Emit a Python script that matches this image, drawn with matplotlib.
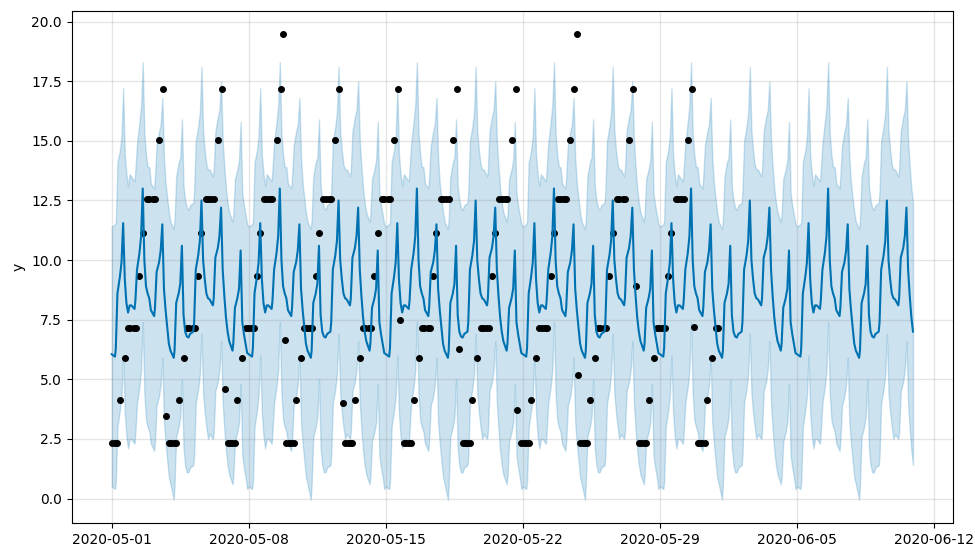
import numpy as np
import pandas as pd
import matplotlib
matplotlib.use('Agg')
import matplotlib.pyplot as plt
import matplotlib.dates as mdates

start = pd.Timestamp('2020-05-01')

# observed values (hours since 2020-05-01 00:00), grouped by level
lvl_233 = [0, 4, 7, 70, 73, 76, 79, 142, 145, 148, 151, 214, 217, 220, 223,
           286, 289, 292, 295, 358, 361, 364, 367, 430, 433, 436, 439,
           502, 505, 508, 511, 574, 577, 580, 583, 646, 649, 652, 655,
           718, 721, 724, 727]
lvl_414 = [10, 82, 154, 226, 298, 370, 442, 514, 586, 658, 730]
lvl_588 = [16, 88, 160, 232, 304, 376, 448, 520, 592, 664, 736]
lvl_713 = [20, 23, 27, 30, 92, 95, 99, 102, 164, 167, 171, 174, 236, 239, 243, 246,
           308, 311, 315, 318, 380, 383, 387, 390, 452, 455, 459, 462,
           524, 527, 531, 534, 596, 599, 603, 606, 668, 671, 675, 678, 740, 743]
lvl_934 = [34, 106, 178, 250, 322, 394, 466, 538, 610, 682]
lvl_1115 = [38, 110, 182, 254, 326, 398, 470, 542, 614, 686]
lvl_1255 = [43, 46, 50, 53, 115, 118, 122, 125, 187, 190, 194, 197, 259, 262, 266, 269,
            331, 334, 338, 341, 403, 406, 410, 413, 475, 478, 482, 485,
            547, 550, 554, 557, 619, 622, 626, 629, 691, 694, 698, 701]
lvl_1505 = [58, 130, 202, 274, 346, 418, 490, 562, 634, 706]
lvl_1717 = [63, 135, 207, 279, 351, 423, 495, 567, 639, 711]
levels = [2.33, 4.14, 5.88, 7.13, 9.34, 11.15, 12.55, 15.05, 17.17]
level_hours = [lvl_233, lvl_414, lvl_588, lvl_713, lvl_934, lvl_1115,
               lvl_1255, lvl_1505, lvl_1717]

# single odd points
odd_hours = [66, 139, 210, 212, 283, 353, 426, 497, 570, 571, 643, 713]
odd_values = [3.45, 4.58, 19.47, 6.63, 4.01, 7.47, 6.29, 3.73, 19.47, 5.16, 8.9, 7.2]

# forecast: one week profile (Fri .. Thu), read at these hours of each day
day_hours = [0, 4, 5, 7, 10, 12, 14, 16, 18, 20, 22]
yhat_week = [
    [6.05, 5.95, 6.3, 8.6, 9.3, 9.9, 11.55, 9.2, 8.2, 7.8, 8.1],     # Fri
    [8.1, 7.95, 8.3, 9.6, 10.3, 11.0, 13.0, 10.0, 8.9, 8.6, 8.4],    # Sat
    [7.9, 7.65, 8.0, 9.5, 9.9, 10.4, 11.5, 8.8, 7.9, 7.2, 6.5],      # Sun
    [6.2, 5.9, 6.2, 8.2, 8.6, 9.0, 10.6, 7.7, 7.0, 6.8, 6.75],       # Mon
    [6.9, 7.0, 7.4, 9.6, 10.2, 10.8, 12.5, 10.0, 9.2, 8.6, 8.4],     # Tue
    [8.35, 8.1, 8.4, 10.1, 10.5, 11.0, 12.2, 9.6, 8.5, 7.6, 7.0],    # Wed
    [6.6, 6.2, 6.5, 8.0, 8.4, 8.8, 10.4, 7.4, 6.9, 6.5, 6.1],        # Thu
]
upper_week = [
    [11.4, 11.5, 11.6, 14.1, 14.6, 15.2, 17.2, 14.4, 13.6, 13.1, 13.6],
    [13.5, 13.3, 13.8, 14.9, 15.8, 16.5, 18.3, 15.3, 14.4, 13.9, 13.9],
    [13.2, 13.0, 13.5, 14.8, 15.4, 15.7, 16.8, 14.3, 13.2, 12.6, 12.0],
    [11.6, 11.3, 11.7, 13.5, 14.1, 14.3, 15.9, 13.1, 12.5, 12.2, 12.1],
    [12.3, 12.4, 12.9, 15.0, 15.6, 16.2, 18.1, 15.4, 14.6, 14.0, 13.8],
    [13.8, 13.5, 13.8, 15.4, 16.0, 16.3, 17.5, 15.0, 13.9, 13.0, 12.4],
    [12.0, 11.6, 11.9, 13.4, 13.8, 14.2, 15.8, 12.8, 12.3, 11.9, 11.5],
]
lower_week = [
    [0.5, 0.4, 0.7, 3.0, 3.7, 4.3, 6.0, 3.6, 2.6, 2.1, 2.5],
    [2.5, 2.3, 2.8, 4.0, 4.7, 5.4, 7.4, 4.4, 3.3, 3.0, 2.8],
    [2.3, 2.0, 2.4, 3.9, 4.3, 4.8, 5.9, 3.2, 2.3, 1.6, 0.9],
    [0.6, -0.05, 0.6, 2.6, 3.0, 3.4, 5.0, 2.1, 1.4, 1.1, 1.1],
    [1.3, 1.4, 1.8, 4.0, 4.6, 5.2, 6.9, 4.4, 3.6, 3.0, 2.5],
    [2.7, 2.5, 2.8, 4.5, 4.9, 5.4, 6.6, 4.0, 2.9, 2.0, 1.4],
    [1.0, 0.6, 0.9, 2.4, 2.8, 3.2, 4.8, 1.8, 1.3, 0.9, 0.4],
]
last_hour = 983  # forecast runs to 2020-06-10 23:00

tick_dates = ['2020-05-01', '2020-05-08', '2020-05-15', '2020-05-22',
              '2020-05-29', '2020-06-05', '2020-06-12']

# build observed points
obs_h = []
obs_y = []
for v, hrs in zip(levels, level_hours):
    obs_h += hrs
    obs_y += [v] * len(hrs)
obs_h += odd_hours
obs_y += odd_values
order = np.argsort(obs_h)
obs_ds = start + pd.to_timedelta(np.array(obs_h)[order], unit='h')
obs_y = np.array(obs_y)[order]

# forecast repeats the weekly pattern over the whole range
fc_h, fc_y, fc_lo, fc_hi = [], [], [], []
for w in range(6):
    for d in range(7):
        for j, h in enumerate(day_hours):
            t = w * 168 + d * 24 + h
            if t > last_hour:
                break
            fc_h.append(t)
            fc_y.append(yhat_week[d][j])
            fc_lo.append(lower_week[d][j])
            fc_hi.append(upper_week[d][j])
fc_ds = start + pd.to_timedelta(np.array(fc_h), unit='h')

fig = plt.figure(figsize=(9.75, 5.49), dpi=100)
ax = fig.add_axes([0.0735, 0.0474, 0.904, 0.9326])
ax.plot(obs_ds, obs_y, 'k.', ms=8)
ax.plot(fc_ds, fc_y, ls='-', c='#0072B2')
ax.fill_between(fc_ds, fc_lo, fc_hi, color='#0072B2', alpha=0.2)
ax.grid(True, which='major', c='gray', ls='-', lw=1, alpha=0.2)
ax.set_ylabel('y')
ax.set_xticks(pd.to_datetime(tick_dates))
ax.xaxis.set_major_formatter(mdates.DateFormatter('%Y-%m-%d'))

fig.savefig('out.png', dpi=100)
